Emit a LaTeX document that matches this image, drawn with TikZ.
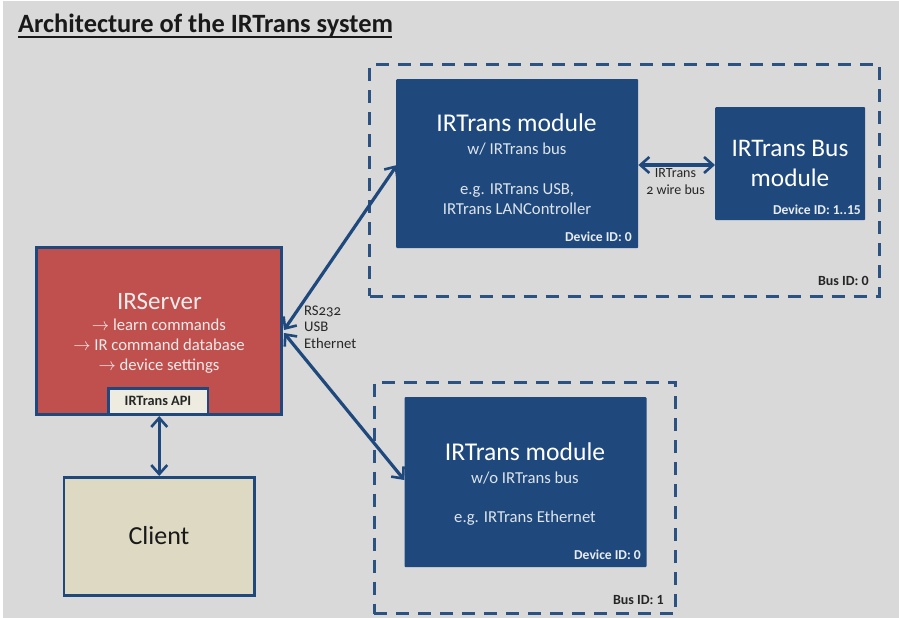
\documentclass[tikz,border=0pt]{standalone}
\usepackage{fontspec}
\setmainfont{Carlito}
\newfontfamily\oldnum[Numbers=OldStyle]{Carlito}
\usetikzlibrary{arrows.meta}
\definecolor{bggray}{RGB}{217,217,217}
\definecolor{navy}{RGB}{31,73,125}
\definecolor{edgeblue}{RGB}{44,82,130}
\definecolor{srvred}{RGB}{192,80,77}
\definecolor{clienttan}{RGB}{221,217,195}
\definecolor{apibox}{RGB}{238,236,225}
\definecolor{softwhite}{RGB}{242,235,235}
\tikzset{
  x=1pt,y=-1pt,
  box/.style={draw=none,fill=navy,inner sep=0pt,rounded corners=1pt},
  framed/.style={draw=navy,line width=2.8pt,inner sep=0pt,anchor=north west},
  lab/.style={inner sep=0pt,align=center,text=white},
  idlab/.style={inner sep=0pt,font=\fontsize{13.6}{16}\selectfont\bfseries,text=white!90!navy},
  blab/.style={inner sep=0pt,align=left,text=black!85,font=\oldnum\fontsize{14.7}{16.2}\selectfont},
  dashbox/.style={draw=edgeblue,line width=3pt,dash pattern=on 13pt off 9pt,outer sep=0pt,inner sep=0pt,anchor=north west},
  link/.style={draw=navy,line width=3.2pt,{Straight Barb[length=9pt,width=16pt,line width=2.6pt]}-{Straight Barb[length=9pt,width=16pt,line width=2.6pt]}},
}
\begin{document}
\begin{tikzpicture}
\useasboundingbox (0,0) rectangle (899,618);
\fill[white] (0,0) rectangle (899,618);
\fill[bggray] (3,1) rectangle (899,618);
% title
\node[inner sep=0pt,anchor=base west,font=\fontsize{26.4}{30}\selectfont\bfseries,text=black!90] (title) at (18,33) {Architecture of the IRTrans system};
\coordinate (tl) at (18,37); \coordinate (tr) at (392,37);
\draw[line width=1.6pt,black!90] (tl) -- (tr);
% dashed groups
\node[dashbox,minimum width=510pt,minimum height=231pt] (bus0) at (369.5,65) {};
\node[dashbox,minimum width=301.5pt,minimum height=231.5pt] (bus1) at (374.3,382) {};
% modules
\node[box,anchor=north west,minimum width=242pt,minimum height=169pt] (m1) at (396,79) {};
\node[box,anchor=north west,minimum width=150pt,minimum height=113pt] (m2) at (715,107) {};
\node[box,anchor=north west,minimum width=242pt,minimum height=170pt] (m3) at (404.3,397) {};
% server and client
\node[framed,fill=srvred,minimum width=245.2pt,minimum height=167.2pt] (srv) at (35,246) {};
\node[framed,fill=apibox,minimum width=99.8pt,minimum height=26.5pt] (api) at (106.7,386.7) {};
\node[framed,fill=clienttan,minimum width=190.7pt,minimum height=118.2pt] (client) at (62.5,476) {};
% texts
\node[lab,text=softwhite,font=\fontsize{25}{28}\selectfont] (srvt) at (159.5,301) {IRServer};
\node[lab,text=softwhite,font=\fontsize{16.7}{20}\selectfont] (srvl) at (159,346) {$\rightarrow$ learn commands\\$\rightarrow$ IR command database\\$\rightarrow$ device settings};
\node[inner sep=0pt,font=\fontsize{14.3}{16}\selectfont\bfseries,text=black!85] (apit) at (158,401) {IRTrans API};
\node[inner sep=0pt,font=\fontsize{26}{30}\selectfont,text=black!90] (clientt) at (159,536) {Client};
\node[lab,font=\fontsize{25.6}{30}\selectfont] (m1t) at (516.5,123) {IRTrans module};
\node[lab,text=white!85!navy,font=\fontsize{16.7}{20}\selectfont] (m1s) at (517,149.5) {w/ IRTrans bus};
\node[lab,text=white!85!navy,font=\fontsize{16.7}{20}\selectfont] (m1e) at (517,199) {e.g. IRTrans USB,\\IRTrans LANController};
\node[idlab,anchor=east] (m1id) at (632,237) {Device ID: 0};
\node[lab,font=\fontsize{25.3}{30}\selectfont] (m2t) at (790,163) {IRTrans Bus\\module};
\node[idlab,anchor=east] (m2id) at (861,210) {Device ID: 1..15};
\node[lab,font=\fontsize{25.6}{30}\selectfont] (m3t) at (525,452) {IRTrans module};
\node[lab,text=white!85!navy,font=\fontsize{16.7}{20}\selectfont] (m3s) at (525,478) {w/o IRTrans bus};
\node[lab,text=white!85!navy,font=\fontsize{16.7}{20}\selectfont] (m3e) at (525,518) {e.g. IRTrans Ethernet};
\node[idlab,anchor=east] (m3id) at (641,554.5) {Device ID: 0};
\node[inner sep=0pt,anchor=east,font=\fontsize{14}{16}\selectfont\bfseries,text=black!85] (b0) at (869,281) {Bus ID: 0};
\node[inner sep=0pt,anchor=east,font=\fontsize{14}{16}\selectfont\bfseries,text=black!85] (b1) at (664,600) {Bus ID: 1};
\node[blab,anchor=north west] (conn) at (304,306) {RS232\\USB\\Ethernet};
\node[inner sep=0pt,align=center,font=\oldnum\fontsize{14}{17}\selectfont,text=black!85] (wire) at (675.5,181.5) {IRTrans\\2 wire bus};
% connectors
\coordinate (srvA) at (284,330);
\coordinate (srvB) at (284,333);
\coordinate (m1in) at (397,165);
\coordinate (m3in) at (404.3,480);
\draw[link] (srvA) -- (m1in);
\draw[link] (srvB) -- (m3in);
\draw[link] (client.north |- api.south) -- (client.north);
\draw[link] (m1.east |- 0,165) -- (m2.west |- 0,165);
\end{tikzpicture}
\end{document}
